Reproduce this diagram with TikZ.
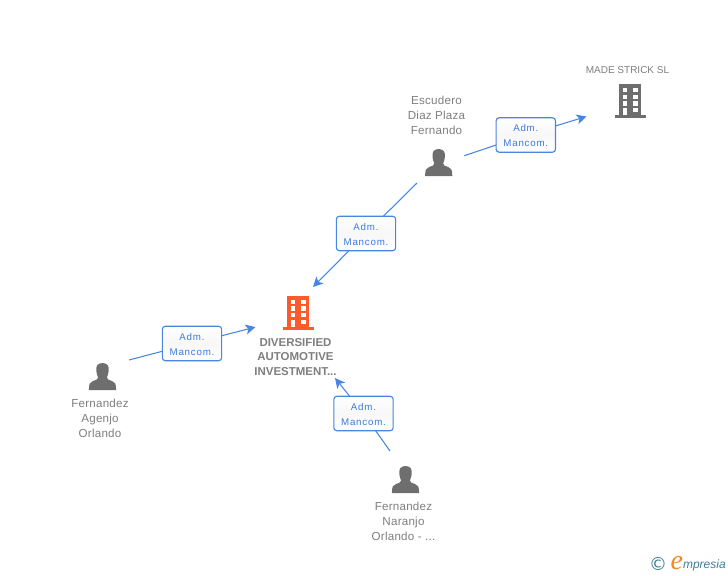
\documentclass[tikz,border=0pt]{standalone}
\usepackage{fontspec}
\setmainfont{Liberation Sans}
\newfontfamily\boxfont[LetterSpace=8]{Liberation Sans}
\newfontfamily\lblfont[LetterSpace=2]{Liberation Sans}
\newfontfamily\logofont{Liberation Serif}
\newfontfamily\symfont{DejaVu Sans}
\usetikzlibrary{arrows.meta}
\definecolor{iconGray}{HTML}{6E6E6E}
\definecolor{txtGray}{HTML}{7F7F7F}
\definecolor{linkBlue}{HTML}{4A86E0}
\definecolor{boxText}{HTML}{3A7BDC}
\definecolor{orgOrange}{HTML}{FF5A2C}
\definecolor{logoTeal}{HTML}{3F7F99}
\definecolor{logoOrange}{HTML}{F08A1D}
\newcommand{\admtext}{\rule{0pt}{6.6pt}Adm.\\Mancom.}
\tikzset{
  every node/.style={inner sep=0pt,outer sep=0pt},
  rolebox/.style={draw=linkBlue,line width=0.85pt,rounded corners=2.2pt,minimum width=44.5pt,minimum height=25.8pt,
    top color=white,bottom color=white,middle color=black!3,text=boxText,align=center,
    font=\boxfont\fontsize{7.3}{11.2}\selectfont},
  lbl/.style={text=txtGray,align=center,font=\lblfont\fontsize{8.7}{11.2}\selectfont},
  orglbl/.style={text=txtGray,align=center,font=\bfseries\fontsize{8.6}{11.2}\selectfont},
  link/.style={draw=linkBlue,line width=0.8pt},
  arrowlink/.style={link,-{Stealth[length=7.5pt,width=7.5pt,inset=2pt]}},
  pics/building/.style={code={
    \fill[#1] (-11,0) rectangle (11,31);
    \fill[#1] (-15.5,31) rectangle (15.5,33.5);
    \foreach \cx in {-7.5,2.6}{
      \foreach \cy in {3.5,10.2,16.9}{
        \fill[white] (\cx,\cy) rectangle ++(4.9,4.3);
      }
    }
    \fill[white] (-7.5,23.6) rectangle ++(4.9,7.4);
    \fill[white] (2.6,23.6) rectangle ++(4.9,4.3);
  }},
  pics/person/.style={code={
    \fill[iconGray] (0,0) .. controls (-5.5,0) and (-6.6,4) .. (-6.2,7.5)
      .. controls (-5.9,11) and (-5,13) .. (-4.4,14.5)
      .. controls (-4.3,16.5) and (-6.5,17) .. (-9.5,18)
      .. controls (-12.5,19) and (-13.6,20.5) .. (-13.6,27) -- (13.6,27)
      .. controls (13.6,20.5) and (12.5,19) .. (9.5,18)
      .. controls (6.5,17) and (4.3,16.5) .. (4.4,14.5)
      .. controls (5,13) and (5.9,11) .. (6.2,7.5)
      .. controls (6.6,4) and (5.5,0) .. (0,0) -- cycle;
  }}
}
\begin{document}
\begin{tikzpicture}[x=0.75pt,y=-0.75pt]
\useasboundingbox (0,0) rectangle (728,575);
\fill[white] (0,0) rectangle (728,575);

% icons
\pic at (630,84.3) {building=iconGray};
\pic at (298,296.2) {building=orgOrange};
\pic at (438.7,149) {person};
\pic at (102.5,363) {person};
\pic at (405.5,466) {person};

% labels
\node[lbl,font=\fontsize{7.5}{11.2}\selectfont] (madeLbl) at (627.5,70.5) {MADE STRICK SL};
\node[lbl] (escLbl) at (436.5,115) {Escudero\\Diaz Plaza\\Fernando};
\node[lbl] (agenLbl) at (100,418.5) {Fernandez\\Agenjo\\Orlando};
\node[lbl] (naraLbl) at (403.5,521.5) {Fernandez\\Naranjo\\Orlando - ...};
\node[orglbl] (orgLbl) at (295.5,357) {DIVERSIFIED\\AUTOMOTIVE\\INVESTMENT...};

% relation boxes
\node[rolebox] (boxA) at (525.8,135) {\admtext};
\node[rolebox] (boxB) at (366,233.5) {\admtext};
\node[rolebox] (boxC) at (192,343.5) {\admtext};
\node[rolebox] (boxD) at (363.5,413.5) {\admtext};

% connector ends
\coordinate (srcA) at (464.3,155.7);
\coordinate (tipA) at (586.5,116.5);
\coordinate (srcB) at (417,183);
\coordinate (tipB) at (313,287);
\coordinate (srcC) at (129,360);
\coordinate (tipC) at (255.5,327);
\coordinate (srcD) at (390,451);
\coordinate (tipD) at (335,378);

% connectors
\draw[link] (srcA) -- (boxA);
\draw[arrowlink] (boxA) -- (tipA);
\draw[link] (srcB) -- (boxB);
\draw[arrowlink] (boxB) -- (tipB);
\draw[link] (srcC) -- (boxC);
\draw[arrowlink] (boxC) -- (tipC);
\draw[link] (srcD) -- (boxD);
\draw[arrowlink] (boxD) -- (tipD);

% logo
\node[text=logoTeal,font=\symfont\fontsize{13.5}{14}\selectfont] (logoC) at (658,564) {©};
\node[anchor=base west,text=logoOrange,font=\logofont\itshape\fontsize{21}{21}\selectfont] (logoE) at (670.5,569) {e};
\node[anchor=base west,text=logoTeal,font=\itshape\fontsize{9}{10}\selectfont] (logoT) at (683,568.5) {mpresia};
\end{tikzpicture}
\end{document}
